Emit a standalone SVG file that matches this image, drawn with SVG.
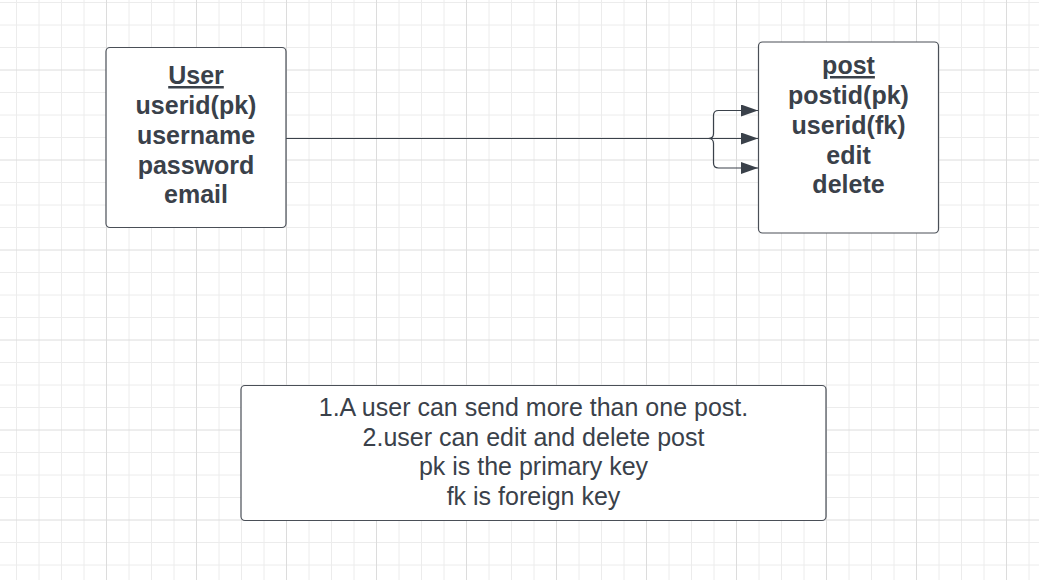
<svg xmlns="http://www.w3.org/2000/svg" width="1039" height="580" viewBox="0 0 1039 580">
<defs>
<style>
.minor{stroke:#ececec;stroke-width:1;fill:none}
.major{stroke:#dcdcdc;stroke-width:1;fill:none}
.box{fill:#ffffff;stroke:#4a4f57;stroke-width:1.2}
.ent{font-family:"Liberation Sans",Arial,sans-serif;font-weight:bold;font-size:25px;fill:#3a414a;text-anchor:middle}
.note{font-family:"Liberation Sans",Arial,sans-serif;font-size:25px;fill:#3a414a;text-anchor:middle}
.conn{fill:none;stroke:#3a414a;stroke-width:1.2}
</style>
<marker id="arrow" markerUnits="userSpaceOnUse" markerWidth="18" markerHeight="13" refX="17" refY="6" orient="auto">
<path d="M0,0 L17,6 L0,12 z" fill="#3a414a"/>
</marker>
</defs>
<rect width="1039" height="580" fill="#ffffff"/>
<g id="grid">
<path class="minor" d="M16.5 0V580M39 0V580M61.5 0V580M84 0V580M129 0V580M151.5 0V580M174 0V580M219 0V580M241.5 0V580M264 0V580M309 0V580M331.5 0V580M354 0V580M399 0V580M421.5 0V580M444 0V580M489 0V580M511.5 0V580M534 0V580M579 0V580M601.5 0V580M624 0V580M669 0V580M691.5 0V580M714 0V580M759 0V580M781.5 0V580M804 0V580M849 0V580M871.5 0V580M894 0V580M939 0V580M961.5 0V580M984 0V580M1029 0V580M0 2.5H1039M0 25H1039M0 47.5H1039M0 92.5H1039M0 115H1039M0 137.5H1039M0 182.5H1039M0 205H1039M0 227.5H1039M0 272.5H1039M0 295H1039M0 317.5H1039M0 362.5H1039M0 385H1039M0 407.5H1039M0 452.5H1039M0 475H1039M0 497.5H1039M0 542.5H1039M0 565H1039"/>
<path class="major" d="M106.5 0V580M196.5 0V580M286.5 0V580M376.5 0V580M466.5 0V580M556.5 0V580M646.5 0V580M736.5 0V580M826.5 0V580M916.5 0V580M1006.5 0V580M0 70H1039M0 160H1039M0 250H1039M0 340H1039M0 430H1039M0 520H1039"/>
</g>
<g id="connectors">
<path class="conn" d="M286 138.5 H758" marker-end="url(#arrow)"/>
<path class="conn" d="M708.5 138.5 Q713.5 138.5 713.5 133.5 V115.5 Q713.5 110.5 718.5 110.5 H758" marker-end="url(#arrow)"/>
<path class="conn" d="M708.5 138.5 Q713.5 138.5 713.5 143.5 V163 Q713.5 168 718.5 168 H758" marker-end="url(#arrow)"/>
</g>
<g id="user">
<rect class="box" x="106" y="47.5" width="180" height="180" rx="4" stroke="#6a6e74"/>
<text class="ent" x="196" y="84" text-decoration="underline">User</text>
<text class="ent" x="196" y="114">userid(pk)</text>
<text class="ent" x="196" y="143.5">username</text>
<text class="ent" x="196" y="173.5">password</text>
<text class="ent" x="196" y="203">email</text>
</g>
<g id="post">
<rect class="box" x="758.5" y="42" width="180" height="191" rx="4"/>
<text class="ent" x="848.5" y="74" text-decoration="underline">post</text>
<text class="ent" x="848.5" y="104">postid(pk)</text>
<text class="ent" x="848.5" y="133.5">userid(fk)</text>
<text class="ent" x="848.5" y="163.5">edit</text>
<text class="ent" x="848.5" y="193">delete</text>
</g>
<g id="notes">
<rect class="box" x="241" y="385.5" width="585" height="135" rx="4"/>
<text class="note" x="533.5" y="416">1.A user can send more than one post.</text>
<text class="note" x="533.5" y="445.5">2.user can edit and delete post</text>
<text class="note" x="533.5" y="475">pk is the primary key</text>
<text class="note" x="533.5" y="504.5">fk is foreign key</text>
</g>
</svg>
